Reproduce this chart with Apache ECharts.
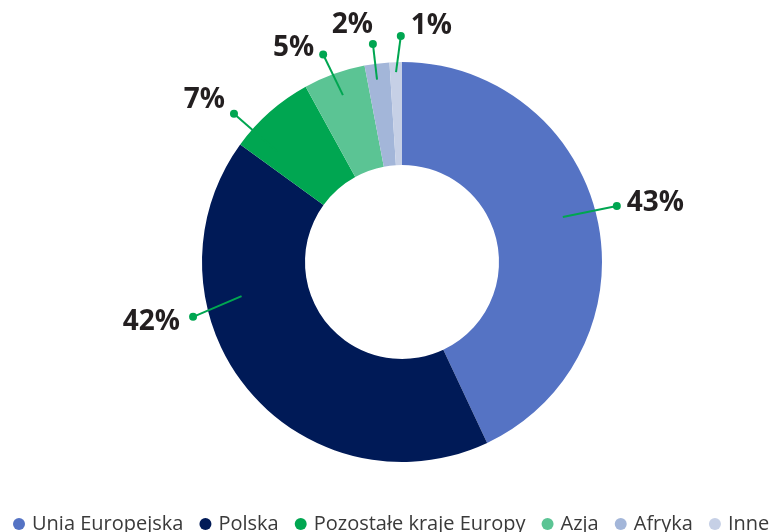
<!DOCTYPE html>
<html><head><meta charset="utf-8">
<script src="https://cdn.jsdelivr.net/npm/echarts@6/dist/echarts.min.js"></script>
<style>html,body{margin:0;padding:0;background:#fff}#c{width:772px;height:532px}</style>
</head><body><div id="c"></div>
<script>
// ---- data ----
const categories = ['Unia Europejska', 'Polska', 'Pozostałe kraje Europy', 'Azja', 'Afryka', 'Inne'];
const shares = [43, 42, 7, 5, 2, 1];
const labelTexts = ['43%', '42%', '7%', '5%', '2%', '1%'];

// ---- styles / layout ----
const colors = ['#5573C4', '#001A57', '#00A651', '#5BC494', '#A3B6D9', '#C6D0E6'];
const leaderColor = '#00A651';
const center = [402, 262];
// leader placement: angle shift from slice mid-angle (deg) at start and end, radii (px), label side/offset
const leaderLayout = [
  { s0: -3.0, s1: -2.0, r0: 167, r1: 222, pos: 'right', dist: 6, off: [0, -3] },
  { s0: 27.6, s1: 24.9, r0: 164, r1: 216, pos: 'left', dist: 9, off: [0, 5] },
  { s0: -7.1, s1: -7.2, r0: 167, r1: 224, pos: 'left', dist: 7, off: [2, -14] },
  { s0: 0.3, s1: -1.0, r0: 177, r1: 222, pos: 'left', dist: 7, off: [2, -6] },
  { s0: -0.6, s1: -0.4, r0: 184, r1: 220, pos: 'left', dist: 0, off: [4, -19] },
  { s0: 0.0, s1: 1.5, r0: 190, r1: 226, pos: 'right', dist: 6, off: [0, -10] }
];

const total = shares.reduce((a, b) => a + b, 0);
let cum = 0;
const midAngles = shares.map(v => { const m = (cum + v / 2) / total * 360; cum += v; return m; });

const leaderSeries = shares.map((v, i) => {
  const L = leaderLayout[i];
  return {
    type: 'line', coordinateSystem: 'polar', z: 5, silent: true, animation: false,
    lineStyle: { color: leaderColor, width: 2 },
    itemStyle: { color: leaderColor },
    showSymbol: true,
    data: [
      { value: [L.r0, midAngles[i] + L.s0], symbol: 'none' },
      {
        value: [L.r1, midAngles[i] + L.s1], symbol: 'circle', symbolSize: 8,
        label: {
          show: true, position: L.pos, distance: L.dist, offset: L.off,
          formatter: labelTexts[i],
          fontFamily: 'Open Sans', fontWeight: 'bold', fontSize: 28, color: '#231F20'
        }
      }
    ]
  };
});

const chart = echarts.init(document.getElementById('c'), null, { renderer: 'canvas' });
chart.setOption({
  animation: false,
  color: colors,
  legend: {
    data: categories,
    left: 13, top: 514, width: 800, padding: 0,
    icon: 'circle', itemWidth: 12, itemHeight: 12, itemGap: 16,
    textStyle: { fontFamily: 'Open Sans', fontSize: 20, color: '#3A3A3A', padding: [0, 0, 0, 2] }
  },
  polar: { center: center, radius: 250 },
  radiusAxis: { type: 'value', min: 0, max: 250, show: false },
  angleAxis: { type: 'value', min: 0, max: 360, startAngle: 90, clockwise: true, show: false },
  series: [
    {
      type: 'pie', center: center, radius: [97, 200], startAngle: 90, clockwise: true,
      z: 2, silent: true, label: { show: false }, labelLine: { show: false },
      emphasis: { disabled: true },
      data: categories.map((c, i) => ({ name: c, value: shares[i] }))
    },
    ...leaderSeries
  ]
});
</script>
</body></html>
